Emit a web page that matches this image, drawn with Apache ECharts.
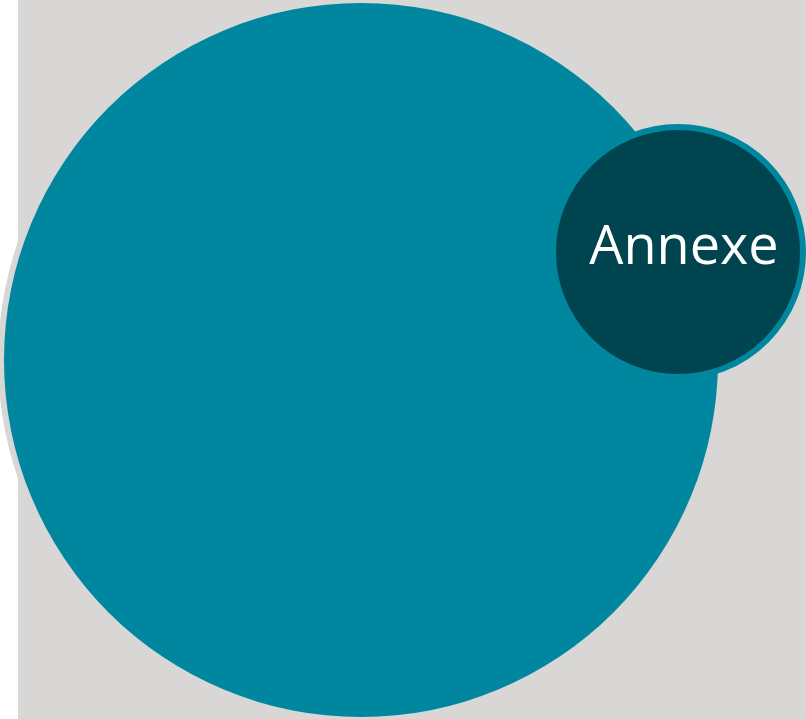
<!DOCTYPE html>
<html><head><meta charset="utf-8">
<script src="https://cdn.jsdelivr.net/npm/echarts@6/dist/echarts.min.js"></script>
<style>html,body{margin:0;padding:0;background:#fff}#c{width:806px;height:719px}</style>
</head><body><div id="c"></div>
<script>
const names = ['', 'Annexe'];
const centersX = [361, 678];
const centersY = [360, 252];
const chart = echarts.init(document.getElementById('c'));
chart.setOption({
  animation: false,
  graphic: [{ type: 'rect', shape: { x: 18, y: 0, width: 788, height: 719 }, style: { fill: '#d9d7d6' }, z: -10 }],
  grid: { left: 0, right: 0, top: 0, bottom: 0 },
  xAxis: { type: 'value', min: 0, max: 806, show: false },
  yAxis: { type: 'value', min: 0, max: 719, inverse: true, show: false },
  series: [
    { type: 'scatter', z: 1, silent: true,
      data: [[centersX[0] - 2, centersY[0]]], symbolSize: 722,
      itemStyle: { color: '#d9d7d6', opacity: 1 } },
    { type: 'scatter', z: 2, silent: true,
      data: [[centersX[0], centersY[0], names[0]]], symbolSize: 714,
      itemStyle: { color: '#00879f', opacity: 1 } },
    { type: 'scatter', z: 3, silent: true,
      data: [[centersX[1], centersY[1], names[1]]], symbolSize: 250,
      itemStyle: { color: '#00444f', borderColor: '#00879f', borderWidth: 6, opacity: 1 },
      label: { show: true, position: 'inside', formatter: p => p.data[2], color: '#ffffff',
        fontFamily: 'Open Sans', fontSize: 54, offset: [6, -3] } }
  ]
});
</script></body></html>
